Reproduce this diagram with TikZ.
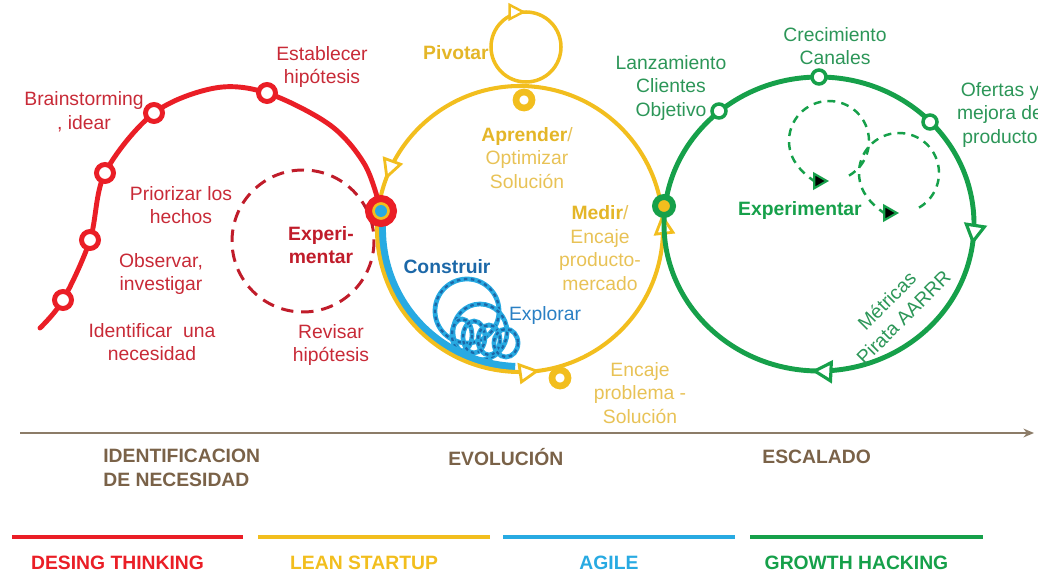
\documentclass[tikz,border=0pt]{standalone}
\usepackage{fontspec}
\setmainfont{Liberation Sans}
\usetikzlibrary{arrows.meta,decorations.markings}

\definecolor{rline}{RGB}{234,30,38}
\definecolor{rtext}{RGB}{200,42,55}
\definecolor{rdark}{RGB}{192,28,42}
\definecolor{yline}{RGB}{242,190,30}
\definecolor{ytext}{RGB}{232,194,86}
\definecolor{ybold}{RGB}{228,182,40}
\definecolor{bline}{RGB}{40,170,226}
\definecolor{bdark}{RGB}{28,104,168}
\definecolor{btext}{RGB}{42,128,196}
\definecolor{gline}{RGB}{22,160,74}
\definecolor{gtext}{RGB}{44,150,88}
\definecolor{brnline}{RGB}{140,124,104}
\definecolor{brn}{RGB}{122,98,72}

\begin{document}
\begin{tikzpicture}
  [x=0.02cm,y=-0.02cm,
   lbl/.style={align=center,inner sep=0pt,font=\fontsize{11}{13.4}\selectfont},
   bold/.style={font=\bfseries\fontsize{11}{13.4}\selectfont},
   phase/.style={align=left,anchor=west,inner sep=0pt,text=brn,font=\bfseries\fontsize{11}{13.4}\selectfont},
   rring/.style={circle,draw=rline,fill=white,line width=2.8pt,minimum size=0.34cm,inner sep=0pt},
   yring/.style={circle,draw=yline,fill=white,line width=3.8pt,minimum size=0.32cm,inner sep=0pt},
   gring/.style={circle,draw=gline,fill=white,line width=2pt,minimum size=0.28cm,inner sep=0pt},
   coil/.style={bline,line width=2.7pt,postaction={draw=bdark,line width=1.3pt,dash pattern=on 2pt off 2pt}},
   gloop/.style={gline,line width=1.4pt,dash pattern=on 4.5pt off 3.5pt},
   yarr/.tip={Triangle[fill=white,length=12pt,width=12pt,line width=1.6pt]},
   parr/.tip={Triangle[fill=white,length=10pt,width=10pt,line width=1.4pt]},
   garr/.tip={Triangle[fill=white,length=12pt,width=13pt,line width=1.8pt]},
   darr/.tip={Triangle[fill=black,length=9pt,width=10pt,line width=1.2pt]}]
  \useasboundingbox (0,0) rectangle (1038,574);

  % design thinking
  \coordinate (r0) at (40,328);
  \coordinate (r1) at (63,300);
  \coordinate (r2) at (90,240);
  \coordinate (r3) at (105,173);
  \coordinate (r4) at (154,113);
  \coordinate (r5) at (267,93);
  \coordinate (hub) at (381,211);
  \draw[rline,line width=2.8pt,line cap=round] plot[smooth,tension=0.55]
    coordinates {(r0) (r1) (r2) (r3) (r4) (215,88) (r5) (330,125) (365,165) (hub)};
  \draw[rdark,line width=1.7pt,dash pattern=on 7pt off 4.5pt] (303,241) circle[radius=71];
  \node[rring] (n1) at (r1) {};
  \node[rring] (n2) at (r2) {};
  \node[rring] (n3) at (r3) {};
  \node[rring] (n4) at (r4) {};
  \node[rring] (n5) at (r5) {};

  % agile
  \foreach \cx/\cy/\rx/\ry in {467/311/32/32,480/332/27/28,462/335/10/16,474/337/11/16,489/340/11/15,506/343/12/14}
    \draw[coil] (\cx,\cy) ellipse[x radius=\rx,y radius=\ry];
  \draw[bline,line width=4.5pt] (520,229) ++(188:138) arc[start angle=188,end angle=92,radius=138];

  % lean startup
  \draw[yline,line width=2.3pt,postaction={decorate},
    decoration={markings,
      mark=at position 0.031 with {\arrow{yarr}},
      mark=at position 0.458 with {\arrow{yarr}},
      mark=at position 0.786 with {\arrow{yarr}}}]
    (520,229) ++(365:143) arc[start angle=365,end angle=5,radius=143];
  \draw[yline,line width=2pt,postaction={decorate},
    decoration={markings,mark=at position 0.75 with {\arrow{parr}}}]
    (526,47) ++(0:35) arc[start angle=0,end angle=360,radius=35];
  \node[yring] (y1) at (524,100) {};
  \node[yring] (y2) at (560,378) {};

  % growth hacking
  \draw[gline,line width=2.8pt,postaction={decorate},
    decoration={markings,
      mark=at position 0.272 with {\arrow{garr}},
      mark=at position 0.508 with {\arrow{garr}}}]
    (819,224) ++(-90:155 and 147) arc[start angle=-90,end angle=270,x radius=155,y radius=147];
  \draw[gloop,-{darr[gline]}] (829,141) ++(60:40) arc[start angle=60,end angle=-270,radius=40];
  \draw[gloop,-{darr[gline]}] (899,173) ++(60:40) arc[start angle=60,end angle=-270,radius=40];
  \node[gring] (g1) at (719,111) {};
  \node[gring] (g2) at (819,77) {};
  \node[gring] (g3) at (930,122) {};
  \node[circle,draw=gline,fill=yline,line width=3.4pt,minimum size=0.36cm,inner sep=0pt] (ghub) at (664,206) {};
  \node[circle,draw=rline,fill=yline,line width=4pt,minimum size=0.5cm,inner sep=0pt,
    path picture={\fill[bline] (path picture bounding box.center) circle (0.12cm);}] (rhub) at (hub) {};

  % labels
  \node[lbl,text=rtext] (brain) at (84,112) {Brainstorming\\, idear};
  \node[lbl,text=rtext] (estab) at (322,67) {Establecer\\hipótesis};
  \node[lbl,text=rtext] (prior) at (181,205) {Priorizar los\\hechos};
  \node[lbl,text=rtext] (obs) at (161,274) {Observar,\\investigar};
  \node[lbl,text=rtext] (ident) at (152,342) {Identificar~ una\\necesidad};
  \node[lbl,text=rtext] (revis) at (331,345) {Revisar\\hipótesis};
  \node[lbl,bold,text=rdark] (rexp) at (321,245) {Experi-\\mentar};
  \node[lbl,bold,text=ybold] (piv) at (456,53) {Pivotar};
  \node[lbl,text=ytext] (apr) at (527,158) {\textcolor{ybold}{\textbf{Aprender}}/\\Optimizar\\Solución};
  \node[lbl,text=ytext] (med) at (600,248) {\textcolor{ybold}{\textbf{Medir}}/\\Encaje\\producto-\\mercado};
  \node[lbl,text=ytext] (enc) at (640,393) {Encaje\\problema -\\Solución};
  \node[lbl,bold,text=bdark] (cons) at (447,267) {Construir};
  \node[lbl,text=btext] (expl) at (545,316) {Explorar};
  \node[lbl,text=gtext] (lanz) at (671,88) {Lanzamiento\\Clientes\\Objetivo};
  \node[lbl,text=gtext] (crec) at (835,46) {Crecimiento\\Canales};
  \node[lbl,text=gtext] (ofer) at (1000,115) {Ofertas y\\mejora de\\producto};
  \node[lbl,bold,text=gline] (gexp) at (800,211) {Experimentar};
  \node[lbl,text=gtext,rotate=45] (met) at (895,309) {Métricas\\Pirata AARRR};

  % timeline
  \coordinate (ax0) at (20,433);
  \coordinate (ax1) at (1034,433);
  \draw[brnline,line width=1.1pt,-{Stealth[length=6pt,width=5pt]}] (ax0) -- (ax1);
  \node[phase] (ph1) at (103,468) {IDENTIFICACION\\DE NECESIDAD};
  \node[phase] (ph2) at (448,457) {EVOLUCIÓN};
  \node[phase] (ph3) at (762,457) {ESCALADO};
  \foreach \c/\a/\b/\t in {rline/12/243/DESING THINKING,yline/258/490/LEAN STARTUP,
                           bline/503/735/AGILE,gline/750/983/GROWTH HACKING}{
    \draw[\c,line width=2.8pt] (\a,537) -- (\b,537);
    \node[lbl,bold,text=\c] at ({(\a+\b)/2-10},563) {\t};
  }
\end{tikzpicture}
\end{document}
